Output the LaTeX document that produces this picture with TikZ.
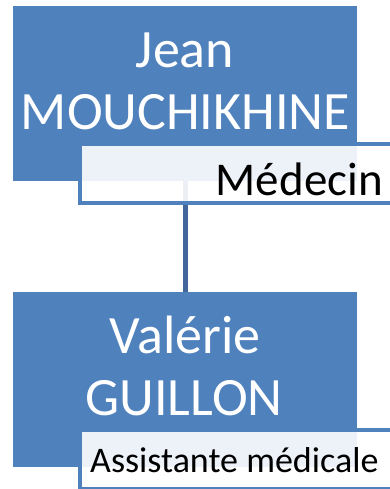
\documentclass[tikz,border=0pt]{standalone}
\usepackage{fontspec}
\setmainfont{Carlito}
\definecolor{boxblue}{HTML}{4F81BD}
\definecolor{linkblue}{HTML}{41679C}
\begin{document}
\begin{tikzpicture}[x=1pt,y=-1pt,
  namebox/.style={fill=boxblue, draw=none, inner sep=0pt, outer sep=0pt,
    minimum width=344pt, minimum height=175pt, anchor=north west},
  rolebox/.style={fill=white, fill opacity=0.9, draw=boxblue, draw opacity=1,
    line width=4pt, inner sep=0pt, outer sep=0pt,
    minimum width=320.5pt, minimum height=59pt, anchor=north west},
  nametext/.style={text=white, font=\fontsize{54}{62}\selectfont, anchor=base, inner sep=0pt},
  roletext/.style={text=black, inner sep=0pt},
  link/.style={draw=linkblue, line width=5pt}]
\clip (0,0) rectangle (390,489);
\fill[white] (0,0) rectangle (390,489);

% boxes for the two people
\node[namebox] (topbox) at (13,6) {};
\node[namebox] (botbox) at (13,292) {};

% reporting line
\draw[link] (topbox.south) -- (botbox.north);

% role tabs
\node[rolebox] (toprole) at (79.5,144) {};
\node[rolebox] (botrole) at (79.5,430) {};

% names
\node[nametext] (jean) at (185,68) {Jean};
\node[nametext] (mouch) at (185.5,130) {MOUCHIKHINE};
\node[nametext] (valerie) at (185,353) {Valérie};
\node[nametext] (guillon) at (184,415) {GUILLON};

% roles
\node[roletext, font=\fontsize{47}{56}\selectfont, anchor=base east] (medecin) at (383,195) {Médecin};
\node[roletext, font=\fontsize{36}{43}\selectfont, anchor=base west] (assist) at (90,472) {Assistante médicale};
\end{tikzpicture}
\end{document}
